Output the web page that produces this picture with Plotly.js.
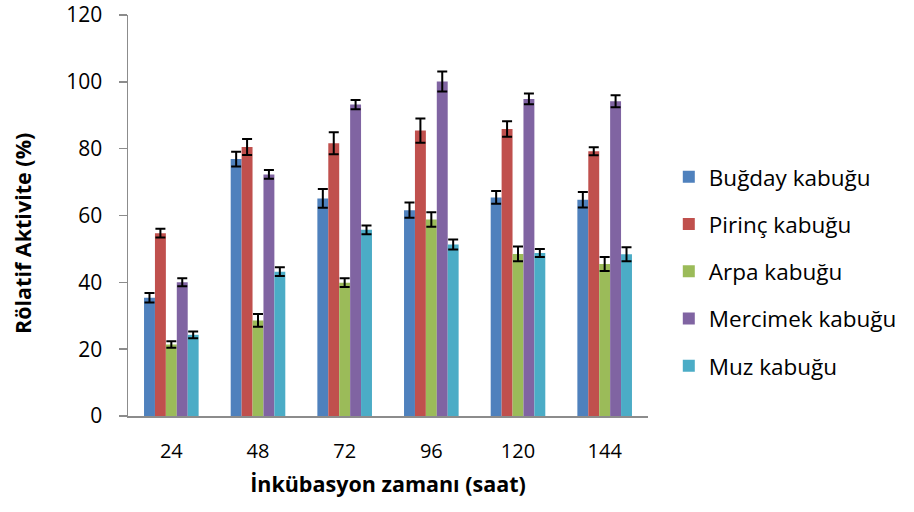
<!DOCTYPE html>
<html>
<head>
<meta charset="utf-8">
<script src="https://cdn.plot.ly/plotly-3.0.1.min.js"></script>
<style>html,body{margin:0;padding:0;background:#fff;}#chart{width:914px;height:512px;}</style>
</head>
<body>
<div id="chart"></div>
<script>
const categories = ["24", "48", "72", "96", "120", "144"];
const seriesNames = ["Buğday kabuğu", "Pirinç kabuğu", "Arpa kabuğu", "Mercimek kabuğu", "Muz kabuğu"];
const bugday = [35.4, 76.9, 65.1, 61.6, 65.4, 64.7];
const bugdayErr = [1.4, 2.2, 2.8, 2.3, 1.9, 2.3];
const pirinc = [54.7, 80.5, 81.6, 85.4, 85.9, 79.2];
const pirincErr = [1.3, 2.4, 3.3, 3.6, 2.3, 1.2];
const arpa = [21.4, 28.6, 39.9, 58.8, 48.5, 45.5];
const arpaErr = [1.0, 1.9, 1.3, 2.2, 2.2, 2.1];
const mercimek = [40.0, 72.3, 93.2, 100.1, 94.9, 94.2];
const mercimekErr = [1.2, 1.3, 1.4, 3.0, 1.6, 1.8];
const muz = [24.3, 43.2, 55.7, 51.3, 48.8, 48.4];
const muzErr = [1.0, 1.3, 1.3, 1.5, 1.2, 2.1];
const colors = ["#4F81BD", "#C0504D", "#9BBB59", "#8064A2", "#4BACC6"];
const yTicks = [0, 20, 40, 60, 80, 100, 120];
const xTitle = "İnkübasyon zamanı (saat)";
const yTitle = "Rölatif Aktivite (%)";

const values = [bugday, pirinc, arpa, mercimek, muz];
const errs = [bugdayErr, pirincErr, arpaErr, mercimekErr, muzErr];

const FONT = "'Open Sans', sans-serif";
const traces = seriesNames.map((name, i) => ({
  type: "bar",
  name: name,
  x: categories,
  y: values[i],
  legendgroup: "g" + i,
  marker: { color: colors[i] },
  error_y: { type: "data", array: errs[i], visible: true, color: "#000", thickness: 2, width: 5 }
}));

const layout = {
  width: 914, height: 512,
  margin: { l: 128, r: 264, t: 15, b: 96 },
  paper_bgcolor: "#fff", plot_bgcolor: "#fff",
  font: { family: FONT, size: 20, color: "#000" },
  barmode: "group",
  bargap: 0.37, bargroupgap: 0,
  showlegend: true,
  legend: {
    x: 1.04, y: 0.36, xanchor: "left", yanchor: "middle",
    font: { family: FONT, size: 22.5, color: "#000" },
    tracegroupgap: 15, itemwidth: 30, traceorder: "grouped"
  },
  xaxis: {
    type: "category",
    categoryorder: "array", categoryarray: categories,
    showline: true, linecolor: "#8c8c8c", linewidth: 1.5,
    ticks: "", showgrid: false, zeroline: false,
    ticklabelstandoff: 16,
    tickfont: { family: FONT, size: 20, color: "#000" },
    title: { text: "<b>" + xTitle + "</b>", font: { family: FONT, size: 21.5, color: "#000" }, standoff: 14 }
  },
  yaxis: {
    range: [0, 120],
    tickvals: yTicks, ticktext: yTicks.map(String),
    showline: true, linecolor: "#8c8c8c", linewidth: 1.5,
    ticks: "outside", ticklen: 8, tickcolor: "#8c8c8c", tickwidth: 1.5,
    showgrid: false, zeroline: false,
    ticklabelstandoff: 12, ticklabeloverflow: "allow",
    tickfont: { family: FONT, size: 21, color: "#000" }
  },
  annotations: [{
    text: "<b>" + yTitle + "</b>",
    xref: "paper", yref: "paper",
    x: -0.203, y: 0.455, xanchor: "center", yanchor: "middle",
    textangle: -90, showarrow: false,
    font: { family: FONT, size: 21.5, color: "#000" }
  }]
};

Plotly.newPlot("chart", traces, layout, { displayModeBar: false, staticPlot: true });
</script>
</body>
</html>
